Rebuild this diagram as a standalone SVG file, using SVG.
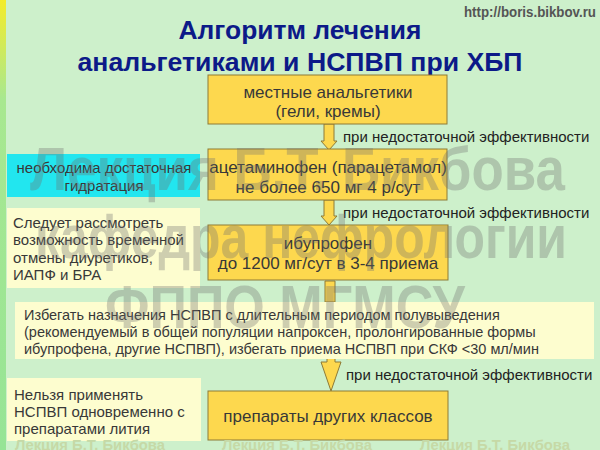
<svg xmlns="http://www.w3.org/2000/svg" width="600" height="450" viewBox="0 0 600 450">
<defs>
<linearGradient id="lb" x1="0" y1="0" x2="0" y2="1">
<stop offset="0" stop-color="#f4ec2a"/>
<stop offset="0.22" stop-color="#a8e890"/>
<stop offset="1" stop-color="#96e496"/>
</linearGradient>
<style>
.bg{fill:#cdf0cb}
.box{fill:#fdd84e;stroke:#8e7a36;stroke-width:1}
.note{fill:#fdfdcf}
.cyan{fill:#22e6ef}
.t{font-family:"Liberation Sans",Arial,sans-serif;fill:#383838}
.bt{font-size:17px;text-anchor:middle}
.nt{font-size:15px}
.wt{font-size:14.5px}
.lbl{font-family:"Liberation Sans",Arial,sans-serif;font-size:15px;fill:#222}
.title{font-family:"Liberation Sans",Arial,sans-serif;font-weight:bold;font-size:26px;fill:#0c1a88;text-anchor:middle}
.wm{font-family:"Liberation Sans Narrow","Liberation Sans",Arial,sans-serif;font-weight:bold;font-size:62px;fill:#707070;opacity:0.33}
.wm2{font-family:"Liberation Sans Narrow","Liberation Sans",Arial,sans-serif;font-weight:bold;font-size:15px;fill:#c6d9a6}
.arr{fill:#fdd84e;stroke:#8e7a36;stroke-width:1}
</style>
</defs>
<rect class="bg" x="0" y="0" width="600" height="450"/>
<rect x="0" y="0" width="6" height="450" fill="url(#lb)"/>

<g id="title">
<text class="title" x="300" y="39" textLength="243" lengthAdjust="spacingAndGlyphs">Алгоритм лечения</text>
<text class="title" x="300" y="71" textLength="445" lengthAdjust="spacingAndGlyphs">анальгетиками и НСПВП при ХБП</text>
</g>
<text x="596" y="17" text-anchor="end" font-family="Liberation Sans Narrow,Liberation Sans,Arial,sans-serif" font-weight="bold" font-size="15" fill="#555" textLength="132" lengthAdjust="spacingAndGlyphs">http://boris.bikbov.ru</text>

<g id="connectors">
<path class="arr" d="M324,124 V141 H321 L329,150 L337,141 H334 V124 Z"/>
<path class="arr" d="M324,200 V216 H321 L329,225 L337,216 H334 V200 Z"/>
<path class="arr" d="M325,281 V302 H335 V281 Z"/>
<path class="arr" d="M327,358 V362 H321 L331,391 L341,362 H335 V358 Z"/>
<text class="lbl" x="343" y="142">при недостаточной эффективности</text>
<text class="lbl" x="343" y="218">при недостаточной эффективности</text>
<text class="lbl" x="346" y="380">при недостаточной эффективности</text>
</g>

<g id="box1">
<rect class="box" x="208" y="75" width="239" height="49"/>
<text class="t bt" x="328" y="98">местные анальгетики</text>
<text class="t bt" x="328" y="117">(гели, кремы)</text>
</g>

<g id="box2">
<rect class="box" x="208" y="149" width="239" height="51"/>
<text class="t bt" x="328" y="173">ацетаминофен (парацетамол)</text>
<text class="t bt" x="328" y="193">не более 650 мг 4 р/сут</text>
</g>

<g id="box3">
<rect class="box" x="208" y="225" width="240" height="55"/>
<text class="t bt" x="328" y="249">ибупрофен</text>
<text class="t bt" x="328" y="269">до 1200 мг/сут в 3-4 приема</text>
</g>

<g id="box4">
<rect class="box" x="208" y="391" width="240" height="49"/>
<text class="t bt" x="328" y="422">препараты других классов</text>
</g>

<g id="note-hydration">
<rect class="cyan" x="7" y="154" width="193" height="43"/>
<text class="t nt" x="104" y="173" text-anchor="middle">необходима достаточная</text>
<text class="t nt" x="104" y="191" text-anchor="middle">гидратация</text>
</g>

<g id="note-diuretics">
<rect class="note" x="7" y="208" width="193" height="80"/>
<text class="t nt" x="13" y="228">Следует рассмотреть</text>
<text class="t nt" x="13" y="245">возможность временной</text>
<text class="t nt" x="13" y="263">отмены диуретиков,</text>
<text class="t nt" x="13" y="280">ИАПФ и БРА</text>
</g>

<g id="note-nsaid">
<rect class="note" x="15" y="302" width="579" height="57"/>
<text class="t wt" x="24" y="320">Избегать назначения НСПВП с длительным периодом полувыведения</text>
<text class="t wt" x="24" y="337">(рекомендуемый в общей популяции напроксен, пролонгированные формы</text>
<text class="t wt" x="24" y="354">ибупрофена, другие НСПВП), избегать приема НСПВП при СКФ &lt;30 мл/мин</text>
</g>

<g id="note-lithium">
<rect class="note" x="7" y="378" width="194" height="63"/>
<text class="t nt" x="14" y="400">Нельзя применять</text>
<text class="t nt" x="14" y="417">НСПВП одновременно с</text>
<text class="t nt" x="14" y="434">препаратами лития</text>
</g>

<g id="watermark">
<text class="wm" x="30" y="190" textLength="535" lengthAdjust="spacingAndGlyphs">Лекция Б.Т. Бикбова</text>
<text class="wm" x="35" y="258" textLength="532" lengthAdjust="spacingAndGlyphs">кафедра нефрологии</text>
<text class="wm" x="105" y="328" textLength="360" lengthAdjust="spacingAndGlyphs">ФППО МГМСУ</text>
<text class="wm2" x="15" y="450" textLength="150" lengthAdjust="spacingAndGlyphs">Лекция Б.Т. Бикбова</text>
<text class="wm2" x="222" y="450" textLength="150" lengthAdjust="spacingAndGlyphs">Лекция Б.Т. Бикбова</text>
<text class="wm2" x="420" y="450" textLength="150" lengthAdjust="spacingAndGlyphs">Лекция Б.Т. Бикбова</text>
</g>
</svg>
